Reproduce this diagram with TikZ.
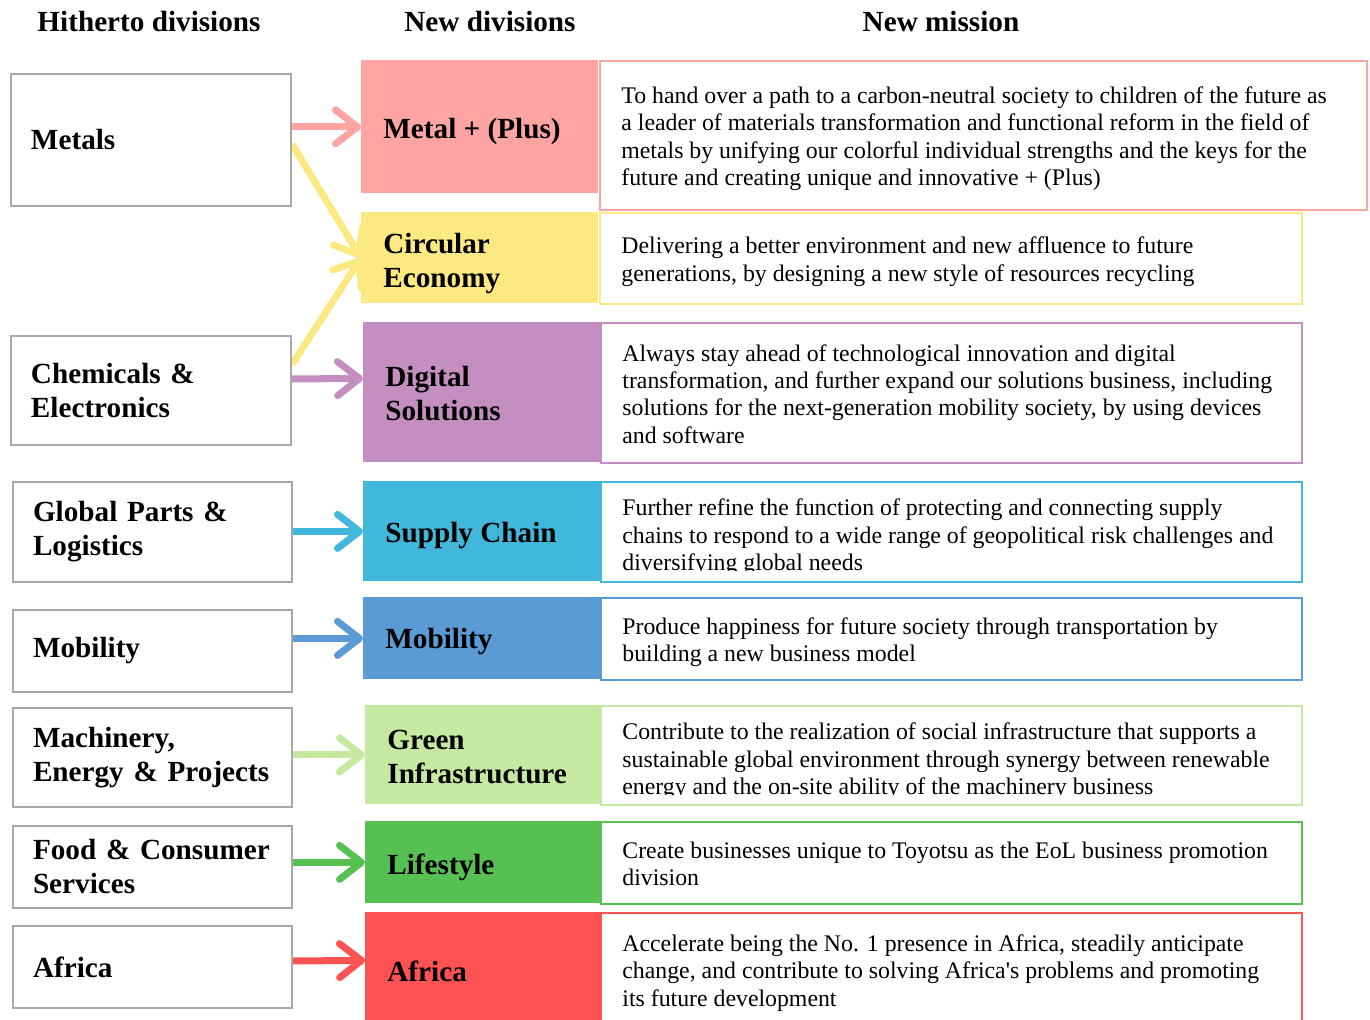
\documentclass[tikz,border=0pt]{standalone}
\usepackage{fontspec}
\setmainfont{Liberation Serif}
\usetikzlibrary{arrows.meta,backgrounds}

\definecolor{metalpink}{HTML}{FFA3A3}
\definecolor{circyellow}{HTML}{FDE981}
\definecolor{digipurple}{HTML}{C48FC0}
\definecolor{supplyblue}{HTML}{41B7DB}
\definecolor{mobblue}{HTML}{5B9BD5}
\definecolor{greenlight}{HTML}{C6E9A1}
\definecolor{lifegreen}{HTML}{57C053}
\definecolor{africared}{HTML}{FF5252}
\definecolor{oldgray}{HTML}{A8A8A8}

\tikzset{
	bigbold/.style={font=\fontsize{14.6}{17}\selectfont\bfseries},
	head/.style={bigbold},
	hdiv/.style={bigbold, draw=oldgray, line width=1pt, fill=white, anchor=north west, inner xsep=10pt, inner ysep=0pt, align=left},
	ndivbox/.style={anchor=north west, inner sep=0pt},
	ndivtext/.style={bigbold, anchor=west, inner xsep=11pt, inner ysep=0pt, align=left},
	nmisbox/.style={line width=1pt, fill=white, anchor=north west, inner sep=0pt},
	nmistext/.style={anchor=west, inner xsep=11pt, inner ysep=0pt, align=left, font=\fontsize{11.9}{13.7}\selectfont},
	link/.style={line width=3.5pt, draw=#1, -{Straight Barb[length=11pt, width=17pt, round]}},
}

% left column: name, left, top, right, bottom, label
\newcommand{\hdivision}[6]{
	\pgfmathsetmacro{\HDt}{(#4-#2-40)*0.5}
	\pgfmathsetmacro{\HDh}{(#5-#3)*0.5}
	\node[hdiv, text width=\HDt pt, minimum height=\HDh pt] (#1) at (#2,#3) {#6};
}

% middle column: name, left, top, right, bottom, colour, label drop (px), label
\newcommand{\ndivision}[8]{
	\pgfmathsetmacro{\NDw}{(#4-#2)*0.5}
	\pgfmathsetmacro{\NDh}{(#5-#3)*0.5}
	\pgfmathsetmacro{\NDm}{(#3+#5)/2+#7}
	\node[ndivbox, fill=#6, minimum width=\NDw pt, minimum height=\NDh pt] (#1) at (#2,#3) {};
	\node[ndivtext] (#1txt) at (#2,\NDm) {#8};
}

% right column: name, left, top, right, bottom, colour, text drop (px), text
\newcommand{\nmission}[8]{
	\pgfmathsetmacro{\NMw}{(#4-#2)*0.5}
	\pgfmathsetmacro{\NMh}{(#5-#3)*0.5}
	\pgfmathsetmacro{\NMc}{#5-10}
	\pgfmathsetmacro{\NMm}{(#3+#5)/2+#7}
	\node[nmisbox, draw=#6, minimum width=\NMw pt, minimum height=\NMh pt] (#1) at (#2,#3) {};
	\begin{scope}
		\clip (#2,#3) rectangle (#4,\NMc);
		\node[nmistext] (#1txt) at (#2,\NMm) {#8};
	\end{scope}
}

\begin{document}
\begin{tikzpicture}[x=0.5pt, y=-0.5pt]
\useasboundingbox (0,0) rectangle (1370,1020);
\clip (0,0) rectangle (1370,1020);

\node[head] (headOld) at (149,22) {Hitherto divisions};
\node[head] (headNew) at (490,22) {New divisions};
\node[head] (headMis) at (941,22) {New mission};

\hdivision{hMetals}{10}{73}{290}{205}{Metals}
\hdivision{hChem}{10}{335}{290}{444}{Chemicals \&\\Electronics}
\hdivision{hParts}{12}{481}{291}{581}{Global Parts \&\\Logistics}
\hdivision{hMob}{12}{609}{291}{691}{Mobility}
\hdivision{hMach}{12}{707}{291}{806}{Machinery,\\Energy \& Projects}
\hdivision{hFood}{12}{825}{291}{907}{Food \& Consumer\\Services}
\hdivision{hAfr}{12}{925}{291}{1007}{Africa}

\nmission{mMetal}{599}{60}{1366}{209}{metalpink}{4}{To hand over a path to a carbon-neutral society to children of the future as\\a leader of materials transformation and functional reform in the field of\\metals by unifying our colorful individual strengths and the keys for the\\future and creating unique and innovative + (Plus)}
\nmission{mCirc}{599}{212}{1301}{303}{circyellow}{4}{Delivering a better environment and new affluence to future\\generations, by designing a new style of resources recycling}
\nmission{mDigi}{600}{322}{1301}{462}{digipurple}{2}{Always stay ahead of technological innovation and digital\\transformation, and further expand our solutions business, including\\solutions for the next-generation mobility society, by using devices\\and software}
\nmission{mSupply}{600}{481}{1301}{581}{supplyblue}{6.5}{Further refine the function of protecting and connecting supply\\chains to respond to a wide range of geopolitical risk challenges and\\diversifying global needs}
\nmission{mMob}{600}{597}{1301}{679}{mobblue}{4}{Produce happiness for future society through transportation by\\building a new business model}
\nmission{mGreen}{600}{705}{1301}{804}{greenlight}{7}{Contribute to the realization of social infrastructure that supports a\\sustainable global environment through synergy between renewable\\energy and the on-site ability of the machinery business}
\nmission{mLife}{600}{821}{1301}{903}{lifegreen}{2}{Create businesses unique to Toyotsu as the EoL business promotion\\division}
\nmission{mAfr}{600}{912}{1301}{1028}{africared}{3}{Accelerate being the No. 1 presence in Africa, steadily anticipate\\change, and contribute to solving Africa\textquotesingle s problems and promoting\\its future development}

\ndivision{nMetal}{361}{60}{598}{193}{metalpink}{5}{Metal + (Plus)}
\ndivision{nCirc}{361}{212}{598}{303}{circyellow}{6}{Circular\\Economy}
\ndivision{nDigi}{363}{322}{600}{462}{digipurple}{2}{Digital\\Solutions}
\ndivision{nSupply}{363}{481}{600}{581}{supplyblue}{5}{Supply Chain}
\ndivision{nMob}{363}{597}{600}{679}{mobblue}{4}{Mobility}
\ndivision{nGreen}{365}{705}{600}{804}{greenlight}{3}{Green\\Infrastructure}
\ndivision{nLife}{365}{821}{600}{903}{lifegreen}{5}{Lifestyle}
\ndivision{nAfr}{365}{912}{600}{1028}{africared}{1}{Africa}

% arrows sit behind the boxes
\begin{pgfonlayer}{background}
	\draw[link=metalpink] (hMetals.east |- nMetal.west) -- (nMetal.west);
	\draw[link=circyellow] ([yshift=-2pt]hMetals.east) -- (nCirc.west);
	\draw[link=circyellow] ([yshift=13pt]hChem.east) -- (nCirc.west);
	\draw[link=digipurple] ([yshift=5.75pt]hChem.east) -- ([yshift=7pt]nDigi.west);
	\draw[link=supplyblue] (hParts.east |- nSupply.west) -- (nSupply.west);
	\draw[link=mobblue] (hMob.east |- nMob.west) -- (nMob.west);
	\draw[link=greenlight] (hMach.east |- nGreen.west) -- (nGreen.west);
	\draw[link=lifegreen] (hFood.east |- nLife.west) -- (nLife.west);
	\draw[link=africared] ([yshift=3pt]hAfr.east) -- ([yshift=5pt]nAfr.west);
\end{pgfonlayer}
\end{tikzpicture}
\end{document}
